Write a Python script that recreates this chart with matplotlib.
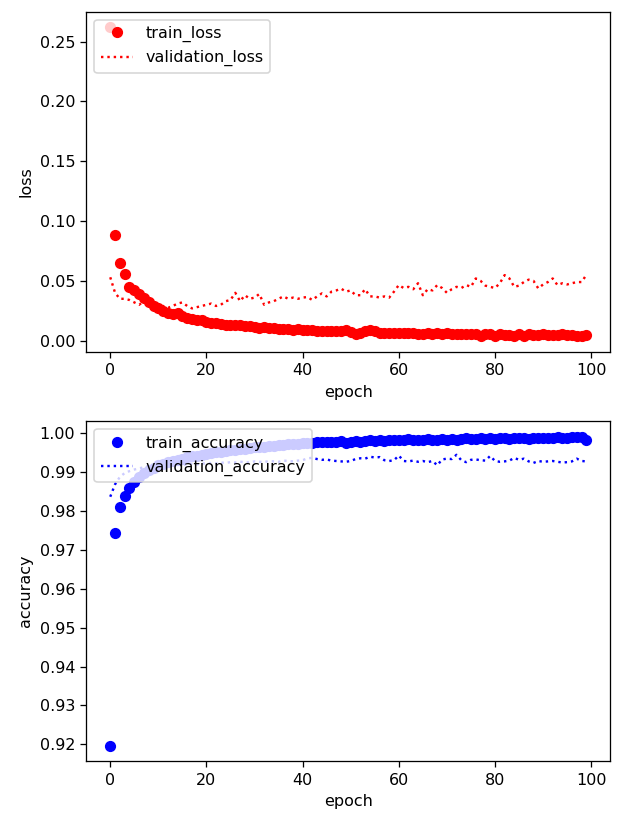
import matplotlib
matplotlib.use("Agg")
import matplotlib.pyplot as plt

epochs = list(range(100))

train_loss = [
    0.262, 0.088, 0.065, 0.0555, 0.045, 0.042, 0.039, 0.036, 0.032, 0.029,
    0.027, 0.025, 0.023, 0.0225, 0.023, 0.021, 0.019, 0.018, 0.0175, 0.017,
    0.0155, 0.015, 0.0148, 0.014, 0.0135, 0.0135, 0.013, 0.0128, 0.012, 0.0125,
    0.0115, 0.011, 0.0112, 0.0105, 0.0102, 0.0098, 0.0101, 0.0095, 0.0092, 0.0094,
    0.0088, 0.0086, 0.0088, 0.0083, 0.0082, 0.0085, 0.0079, 0.0080, 0.0078, 0.0086,
    0.0072, 0.0060, 0.0065, 0.0078, 0.0088, 0.0080, 0.0068, 0.0066, 0.0064, 0.0068,
    0.0065, 0.0062, 0.0066, 0.0063, 0.0058, 0.0056, 0.0064, 0.0060, 0.0062, 0.0059,
    0.0061, 0.0055, 0.0058, 0.0060, 0.0052, 0.0058, 0.0054, 0.0035, 0.0060, 0.0056,
    0.0042, 0.0052, 0.0048, 0.0050, 0.0040, 0.0052, 0.0038, 0.0055, 0.0050, 0.0048,
    0.0053, 0.0046, 0.0051, 0.0049, 0.0052, 0.0047, 0.0050, 0.0043, 0.0036, 0.0046,
]

validation_loss = [
    0.053, 0.040, 0.035, 0.035, 0.034, 0.032, 0.030, 0.033, 0.031, 0.029,
    0.028, 0.029, 0.0275, 0.029, 0.031, 0.032, 0.029, 0.027, 0.028, 0.029,
    0.030, 0.031, 0.029, 0.030, 0.033, 0.034, 0.040, 0.033, 0.038, 0.035,
    0.036, 0.039, 0.030, 0.032, 0.033, 0.035, 0.037, 0.035, 0.036, 0.035,
    0.036, 0.0365, 0.034, 0.037, 0.0395, 0.037, 0.041, 0.042, 0.0435, 0.041,
    0.042, 0.038, 0.038, 0.043, 0.037, 0.037, 0.036, 0.037, 0.036, 0.041,
    0.0465, 0.044, 0.045, 0.043, 0.048, 0.038, 0.043, 0.042, 0.0465, 0.044,
    0.040, 0.043, 0.045, 0.044, 0.0465, 0.045, 0.052, 0.050, 0.046, 0.045,
    0.044, 0.048, 0.0548, 0.052, 0.045, 0.046, 0.049, 0.051, 0.050, 0.0437,
    0.047, 0.049, 0.052, 0.0464, 0.048, 0.047, 0.048, 0.049, 0.049, 0.055,
]

train_accuracy = [
    0.9196, 0.9745, 0.9810, 0.9838, 0.9860, 0.9875, 0.9887, 0.9897, 0.9905, 0.9912,
    0.9918, 0.9922, 0.9926, 0.9929, 0.9932, 0.9935, 0.9938, 0.9941, 0.9943, 0.9945,
    0.9948, 0.9950, 0.9952, 0.9953, 0.9955, 0.9957, 0.9958, 0.9960, 0.9961, 0.9962,
    0.9964, 0.9965, 0.9966, 0.9968, 0.9968, 0.9970, 0.9971, 0.9972, 0.9972, 0.9974,
    0.9975, 0.9976, 0.9975, 0.9977, 0.9978, 0.9977, 0.9979, 0.9978, 0.9980, 0.9976,
    0.9979, 0.9981, 0.9978, 0.9980, 0.9982, 0.9981, 0.9983, 0.9980, 0.9982, 0.9984,
    0.9982, 0.9983, 0.9985, 0.9982, 0.9984, 0.9983, 0.9985, 0.9984, 0.9982, 0.9985,
    0.9984, 0.9986, 0.9984, 0.9985, 0.9987, 0.9985, 0.9986, 0.9988, 0.9985, 0.9987,
    0.9986, 0.9988, 0.9987, 0.9985, 0.9988, 0.9987, 0.9989, 0.9986, 0.9988, 0.9987,
    0.9989, 0.9987, 0.9988, 0.9990, 0.9988, 0.9989, 0.9990, 0.9991, 0.9992, 0.9982,
]

validation_accuracy = [
    0.9837, 0.9869, 0.9888, 0.9898, 0.9903, 0.9907, 0.9910, 0.9913, 0.9915, 0.9914,
    0.9917, 0.9918, 0.9916, 0.9919, 0.9920, 0.9918, 0.9921, 0.9922, 0.9920, 0.9923,
    0.9922, 0.9924, 0.9923, 0.9925, 0.9924, 0.9926, 0.9925, 0.9927, 0.9926, 0.9925,
    0.9928, 0.9927, 0.9926, 0.9929, 0.9928, 0.9927, 0.9930, 0.9929, 0.9928, 0.9930,
    0.9931, 0.9936, 0.9937, 0.9934, 0.9932, 0.9933, 0.9930, 0.9929, 0.9928, 0.9927,
    0.9929, 0.9934, 0.9936, 0.9935, 0.9940, 0.9938, 0.9939, 0.9931, 0.9929, 0.9931,
    0.9943, 0.9929, 0.9928, 0.9930, 0.9927, 0.9929, 0.9926, 0.9929, 0.9918, 0.9933,
    0.9935, 0.9934, 0.9945, 0.9931, 0.9926, 0.9932, 0.9933, 0.9931, 0.9930, 0.9942,
    0.9929, 0.9927, 0.9928, 0.9930, 0.9937, 0.9932, 0.9935, 0.9928, 0.9924, 0.9929,
    0.9927, 0.9928, 0.9929, 0.9927, 0.9925, 0.9926, 0.9928, 0.9935, 0.9929, 0.9928,
]

fig = plt.figure(figsize=(631 / 115, 822 / 115), dpi=115)
fig.subplots_adjust(left=0.137, right=0.967, top=0.9858, bottom=0.0738, hspace=0.203)

ax1 = fig.add_subplot(2, 1, 1)
ax1.plot(epochs, train_loss, "ro", label="train_loss")
ax1.plot(epochs, validation_loss, "r:", label="validation_loss")
ax1.set_xlabel("epoch")
ax1.set_ylabel("loss")
ax1.legend(loc="upper left")

ax2 = fig.add_subplot(2, 1, 2)
ax2.plot(epochs, train_accuracy, "bo", label="train_accuracy")
ax2.plot(epochs, validation_accuracy, "b:", label="validation_accuracy")
ax2.set_xlabel("epoch")
ax2.set_ylabel("accuracy")
ax2.legend(loc="upper left")

fig.savefig("out.png", dpi=115)
